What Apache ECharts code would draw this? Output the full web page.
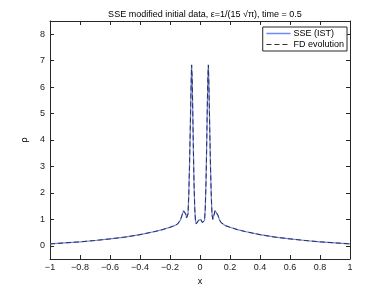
<!DOCTYPE html>
<html>
<head>
<meta charset="utf-8">
<script src="https://cdn.jsdelivr.net/npm/echarts@6/dist/echarts.min.js"></script>
<style>html,body{margin:0;padding:0;background:#fff;}#c{width:388px;height:292px;}</style>
</head>
<body>
<div id="c"></div>
<script>
const xValues = [-1, -0.9, -0.8, -0.7, -0.6, -0.5, -0.4, -0.3, -0.25, -0.2, -0.17, -0.15, -0.14, -0.13, -0.12, -0.11, -0.105, -0.1, -0.095, -0.09, -0.085, -0.08, -0.075, -0.07, -0.065, -0.06, -0.056, -0.052, -0.048, -0.044, -0.04, -0.035, -0.03, -0.025, -0.02, -0.015, -0.01, -0.005, 0,
  0.005, 0.01, 0.015, 0.02, 0.025, 0.03, 0.035, 0.04, 0.044, 0.048, 0.052, 0.056, 0.06, 0.065, 0.07, 0.075, 0.08, 0.085, 0.09, 0.095, 0.1, 0.105, 0.11, 0.12, 0.13, 0.14, 0.15, 0.17, 0.2, 0.25, 0.3, 0.4, 0.5, 0.6, 0.7, 0.8, 0.9, 1];
const sseValues = [0.07, 0.11, 0.15, 0.2, 0.26, 0.33, 0.42, 0.54, 0.61, 0.70, 0.76, 0.82, 0.88, 0.98, 1.15, 1.32, 1.37, 1.33, 1.2, 1.05, 1.0, 1.2, 1.9, 3.0, 4.4, 5.9, 6.84, 6.3, 5.0, 3.6, 2.4, 1.4, 0.95, 0.83, 0.82, 0.88, 0.96, 1.0, 1.0,
  1.0, 0.96, 0.88, 0.82, 0.83, 0.95, 1.4, 2.4, 3.6, 5.0, 6.3, 6.84, 5.9, 4.4, 3.0, 1.9, 1.2, 1.0, 1.05, 1.2, 1.33, 1.37, 1.32, 1.15, 0.98, 0.88, 0.82, 0.76, 0.70, 0.61, 0.54, 0.42, 0.33, 0.26, 0.2, 0.15, 0.11, 0.07];
const fdValues = [0.07, 0.11, 0.15, 0.2, 0.26, 0.33, 0.42, 0.54, 0.61, 0.70, 0.76, 0.82, 0.88, 0.98, 1.15, 1.32, 1.37, 1.33, 1.2, 1.05, 1.0, 1.2, 1.9, 3.0, 4.4, 5.9, 6.84, 6.3, 5.0, 3.6, 2.4, 1.4, 0.95, 0.83, 0.82, 0.88, 0.96, 1.0, 1.0,
  1.0, 0.96, 0.88, 0.82, 0.83, 0.95, 1.4, 2.4, 3.6, 5.0, 6.3, 6.84, 5.9, 4.4, 3.0, 1.9, 1.2, 1.0, 1.05, 1.2, 1.33, 1.37, 1.32, 1.15, 0.98, 0.88, 0.82, 0.76, 0.70, 0.61, 0.54, 0.42, 0.33, 0.26, 0.2, 0.15, 0.11, 0.07];
const xTicks = [-1, -0.8, -0.6, -0.4, -0.2, 0, 0.2, 0.4, 0.6, 0.8, 1];
const yTicks = [0, 1, 2, 3, 4, 5, 6, 7, 8];
const seriesNames = ['SSE (IST)', 'FD evolution'];
const titleText = 'SSE modified initial data, \u03b5=1/(15 \u221a\u03c0), time = 0.5';

const font = 'Liberation Sans, Arial, sans-serif';
const axisColor = '#262626';
const sseColor = '#6f85ff';
const fdColor = '#333';
const fmt = v => String(Math.round(v * 10) / 10).replace('-', '\u2212');

function xAx(pos, labels) {
  return {
    type: 'value', position: pos, min: -1, max: 1,
    name: labels ? 'x' : '', nameLocation: 'middle', nameGap: 18,
    nameTextStyle: { fontFamily: font, fontSize: 9, color: '#000' },
    axisLine: { show: true, onZero: false, lineStyle: { color: axisColor, width: 1 } },
    axisTick: { show: true, inside: true, length: 4, customValues: xTicks, lineStyle: { color: axisColor } },
    axisLabel: { show: labels, customValues: xTicks, formatter: fmt, fontFamily: font, fontSize: 9, color: '#222', margin: 4 },
    splitLine: { show: false }
  };
}
function yAx(pos, labels) {
  return {
    type: 'value', position: pos, min: -0.5, max: 8.5,
    name: labels ? '\u03c1' : '', nameLocation: 'middle', nameGap: 14,
    nameTextStyle: { fontFamily: font, fontSize: 9, color: '#000' },
    axisLine: { show: true, onZero: false, lineStyle: { color: axisColor, width: 1 } },
    axisTick: { show: true, inside: true, length: 4, customValues: yTicks, lineStyle: { color: axisColor } },
    axisLabel: { show: labels, customValues: yTicks, formatter: fmt, fontFamily: font, fontSize: 9, color: '#222', margin: 5 },
    splitLine: { show: false }
  };
}

const chart = echarts.init(document.getElementById('c'), null, { renderer: 'canvas' });
chart.setOption({
  backgroundColor: '#fff',
  animation: false,
  title: {
    text: titleText, left: 200, top: 5, textAlign: 'center',
    textStyle: { fontFamily: font, fontSize: 9, fontWeight: 'normal', color: '#000' }
  },
  legend: {
    right: 41, top: 27, orient: 'vertical',
    backgroundColor: '#fff', borderColor: axisColor, borderWidth: 1, borderRadius: 0,
    padding: [2, 3, 2, 3], itemGap: 2, itemWidth: 24, itemHeight: 8,
    itemStyle: { opacity: 0, borderWidth: 0 },
    textStyle: { fontFamily: font, fontSize: 9, color: '#000', padding: [0, 0, 0, -2] },
    data: [
      { name: seriesNames[0], lineStyle: { color: sseColor, width: 1.5, type: 'solid', opacity: 1 } },
      { name: seriesNames[1], lineStyle: { color: fdColor, width: 1, type: [5, 3], opacity: 1 } }
    ]
  },
  grid: { left: 50, right: 38, top: 21, bottom: 33, containLabel: false },
  xAxis: [xAx('bottom', true), xAx('top', false)],
  yAxis: [yAx('left', true), yAx('right', false)],
  series: [
    {
      name: seriesNames[0], type: 'line', showSymbol: false, symbol: 'none',
      data: xValues.map((x, i) => [x, sseValues[i]]),
      lineStyle: { color: sseColor, width: 1.2 }, itemStyle: { color: sseColor }
    },
    {
      name: seriesNames[1], type: 'line', showSymbol: false, symbol: 'none',
      data: xValues.map((x, i) => [x, fdValues[i]]),
      lineStyle: { color: fdColor, width: 1, type: [5, 3] }, itemStyle: { color: fdColor }
    }
  ]
});
</script>
</body>
</html>
